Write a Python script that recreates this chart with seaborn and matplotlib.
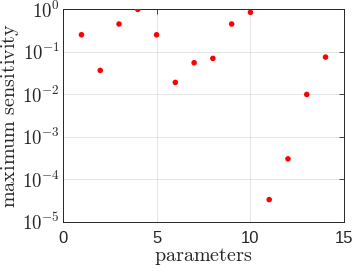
import numpy as np
import pandas as pd
import matplotlib
matplotlib.use("Agg")
import matplotlib.pyplot as plt
import matplotlib.ticker as mticker
import seaborn as sns

# data
params = [1, 2, 3, 4, 5, 6, 7, 8, 9, 10, 11, 12, 13, 14]
max_sens = [0.248, 0.036, 0.444, 0.98, 0.248, 0.0188, 0.0545, 0.069,
            0.444, 0.835, 3.3e-5, 3.0e-4, 0.0098, 0.074]
xticks = [0, 5, 10, 15]
ydecades = [-5, -4, -3, -2, -1, 0]

df = pd.DataFrame({"parameters": params, "max_sens": max_sens})

sns.set_style("white")
plt.rcParams["font.family"] = ["Liberation Sans", "DejaVu Sans"]
plt.rcParams["mathtext.fontset"] = "cm"

fig, ax = plt.subplots(figsize=(3.54, 2.72), dpi=100)
fig.subplots_adjust(left=62.7 / 354, right=344.3 / 354,
                    bottom=1 - 221.7 / 272, top=1 - 9 / 272)

ax.set_yscale("log")
sns.scatterplot(data=df, x="parameters", y="max_sens", ax=ax,
                color="#ff0000", edgecolor="none", s=16, zorder=3)

ax.set_xlim(0, 15)
ax.set_ylim(1e-5, 1)
ax.set_xticks(xticks)
ax.set_xticklabels([str(t) for t in xticks])
ax.set_yticks([10.0 ** d for d in ydecades])
ax.set_yticklabels([r"$\mathsf{10^{%d}}$" % d for d in ydecades])
ax.yaxis.set_minor_locator(mticker.LogLocator(base=10, subs=np.arange(2, 10)))
ax.yaxis.set_minor_formatter(mticker.NullFormatter())

ax.tick_params(axis="both", which="both", direction="in", top=True, right=True,
               color="#262626", labelsize=12, labelcolor="#262626")
ax.tick_params(axis="x", which="major", pad=7)
ax.tick_params(axis="y", which="major", labelsize=13.5, pad=2)
ax.tick_params(axis="both", which="major", length=3.5, width=0.6)
ax.tick_params(axis="y", which="minor", length=2, width=0.5)

ax.grid(True, which="major", color="#e0e0e0", linewidth=0.6)
ax.grid(True, which="minor", axis="y", color="#adadad", linewidth=0.5,
        linestyle=(0, (1, 1.5)))
ax.set_axisbelow(True)

for sp in ax.spines.values():
    sp.set_color("#262626")
    sp.set_linewidth(0.7)

ax.set_xlabel(r"$\mathrm{parameters}$", fontsize=14.5, color="#262626", labelpad=0)
ax.set_ylabel(r"$\mathrm{maximum\ sensitivity}$", fontsize=14.5, color="#262626",
              labelpad=1)

fig.savefig("out.png", dpi=100)
